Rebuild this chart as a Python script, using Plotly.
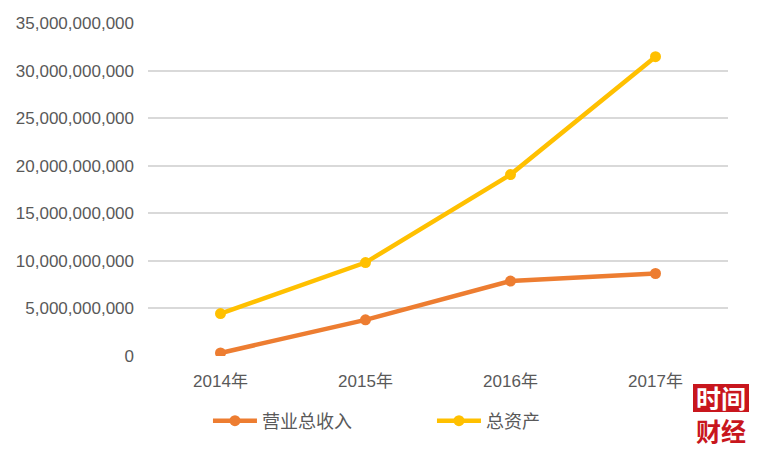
import plotly.graph_objects as go

years = ["2014年", "2015年", "2016年", "2017年"]
revenue = [0.32e9, 3.80e9, 7.88e9, 8.67e9]
assets = [4.46e9, 9.82e9, 19.07e9, 31.46e9]
series_names = ["营业总收入", "总资产"]
y_ticks = [0, 5e9, 10e9, 15e9, 20e9, 25e9, 30e9, 35e9]

FONT = "Liberation Sans, Arial, Noto Sans CJK SC, sans-serif"

fig = go.Figure()
fig.add_trace(go.Scatter(x=years, y=revenue, name=series_names[0], mode="lines+markers",
                         line=dict(color="#ED7D31", width=4.5),
                         marker=dict(color="#ED7D31", size=11)))
fig.add_trace(go.Scatter(x=years, y=assets, name=series_names[1], mode="lines+markers",
                         line=dict(color="#FFC000", width=4.5),
                         marker=dict(color="#FFC000", size=11)))

W, H = 751, 442
L, R, T, B = 140, 720, 15, 348
PH = B - T
PW = R - L

fig.update_layout(
    width=W, height=H,
    margin=dict(l=L, r=W - R, t=T, b=H - B, autoexpand=False),
    paper_bgcolor="white", plot_bgcolor="white",
    font=dict(family=FONT, size=17, color="#595959"),
    showlegend=True,
    legend=dict(orientation="h", x=0.1034, xanchor="left", y=-0.195, yanchor="middle",
                font=dict(size=18, color="#595959", family="Noto Sans CJK SC, sans-serif"),
                itemwidth=44,
                entrywidth=165, entrywidthmode="pixels", bgcolor="rgba(0,0,0,0)"),
    xaxis=dict(range=[-0.5, 3.5], showgrid=False, showline=False, zeroline=False, ticks="",
               ticklabelstandoff=13, tickfont=dict(size=17), automargin=False),
    yaxis=dict(range=[0, 35e9], tickvals=y_ticks, tickformat=",d",
               showgrid=True, gridcolor="#D9D9D9", gridwidth=1.5,
               zeroline=False, showline=False, ticks="", ticklabelstandoff=13,
               tickfont=dict(size=17), automargin=False),
)

# Logo: red box + two-line text
RED = "#C8161D"
fig.add_shape(type="rect", xref="paper", yref="paper",
              x0=(685 - L) / PW, x1=(741 - L) / PW,
              y0=(B - 404) / PH, y1=(B - 376) / PH,
              fillcolor=RED, line=dict(width=0), layer="above")
fig.add_annotation(xref="paper", yref="paper", x=(713 - L) / PW, y=(B - 405) / PH,
                   text="<b><span style='color:white'>时间</span><br>财经</b>",
                   showarrow=False, borderpad=0,
                   font=dict(family="Noto Sans CJK SC", size=25, color=RED),
                   xanchor="center", yanchor="middle")

fig.write_html("out.html")
